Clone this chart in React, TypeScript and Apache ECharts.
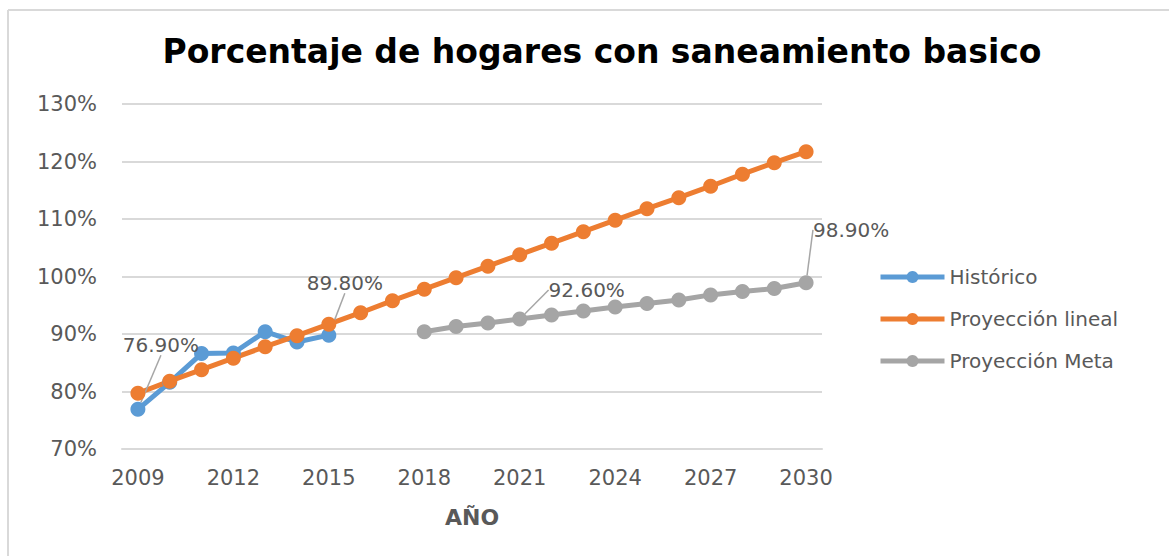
import React, { useEffect, useRef } from "react";
import * as echarts from "echarts";

const years = ["2009","2010","2011","2012","2013","2014","2015","2016","2017","2018","2019","2020","2021","2022","2023","2024","2025","2026","2027","2028","2029","2030"];
const historico = [76.9, 81.6, 86.6, 86.7, 90.4, 88.6, 89.8, null, null, null, null, null, null, null, null, null, null, null, null, null, null, null];
const proyeccionLineal = [79.7, 81.8, 83.8, 85.8, 87.8, 89.7, 91.7, 93.7, 95.8, 97.8, 99.8, 101.8, 103.8, 105.8, 107.8, 109.8, 111.8, 113.7, 115.7, 117.8, 119.8, 121.7];
const proyeccionMeta = [null, null, null, null, null, null, null, null, null, 90.4, 91.3, 91.9, 92.6, 93.3, 94.0, 94.7, 95.3, 95.9, 96.8, 97.4, 97.9, 98.9];
const seriesNames = ["Histórico", "Proyección lineal", "Proyección Meta"];
const titleText = "Porcentaje de hogares con saneamiento basico";
const xName = "AÑO";

// label offsets (dx, dy) relative to point, keyed by series then index
const labelOffsets: Record<string, Record<number, [number, number]>> = {
  "Histórico": { 0: [23, -64], 6: [16, -52] },
  "Proyección Meta": { 12: [67, -29], 21: [45, -53] },
};

const FONT = "'DejaVu Sans', sans-serif";
const TXT = "#595959";

function withLabels(name: string, arr: (number | null)[]) {
  const offs = labelOffsets[name] || {};
  return arr.map((v, i) => {
    if (v == null) return null;
    if (offs[i]) {
      return {
        value: v,
        label: {
          show: true,
          position: "inside",
          color: TXT,
          fontSize: 20,
          fontFamily: FONT,
          formatter: (p: any) => Number(p.value).toFixed(2) + "%",
        },
        labelLine: { show: true, lineStyle: { color: "#a6a6a6", width: 1.5 } },
      };
    }
    return v;
  });
}

export default function App() {
  const ref = useRef<HTMLDivElement>(null);
  useEffect(() => {
    if (!ref.current) return;
    const chart = echarts.init(ref.current, null, { renderer: "svg" });
    const mk = (name: string, arr: (number | null)[], color: string) => ({
      name,
      type: "line",
      data: withLabels(name, arr),
      symbol: "circle",
      symbolSize: 15,
      lineStyle: { color, width: 5 },
      itemStyle: { color },
      connectNulls: false,
      label: { show: false },
      labelLayout: (p: any) => {
        const o = (labelOffsets[name] || {})[p.dataIndex];
        return o ? { dx: o[0], dy: o[1] } : {};
      },
    });
    chart.setOption({
      animation: false,
      backgroundColor: "#ffffff",
      title: {
        text: titleText,
        top: 30,
        left: 597,
        textAlign: "center",
        textStyle: { fontFamily: FONT, fontWeight: "bold", fontSize: 33, color: "#000000" },
      },
      graphic: [
        { type: "line", shape: { x1: 8, y1: 10, x2: 1169, y2: 10 }, style: { stroke: "#d9d9d9", lineWidth: 2 } },
        { type: "line", shape: { x1: 8, y1: 10, x2: 8, y2: 556 }, style: { stroke: "#d9d9d9", lineWidth: 2 } },
      ],
      legend: {
        orient: "vertical",
        left: 873,
        top: 262,
        itemWidth: 64,
        itemHeight: 15,
        itemGap: 22,
        lineStyle: { width: 5 },
        textStyle: { fontFamily: FONT, fontSize: 20, color: TXT },
        data: seriesNames,
      },
      grid: { left: 122, right: 347, top: 104, bottom: 107 },
      xAxis: {
        type: "category",
        data: years,
        boundaryGap: true,
        axisLine: { lineStyle: { color: "#d9d9d9", width: 2 } },
        axisTick: { show: false },
        axisLabel: { interval: 2, color: TXT, fontSize: 21, fontFamily: FONT, margin: 18 },
        name: xName,
        nameLocation: "middle",
        nameGap: 57,
        nameTextStyle: { color: TXT, fontSize: 22, fontWeight: "bold", fontFamily: FONT },
      },
      yAxis: {
        type: "value",
        min: 70,
        max: 130,
        interval: 10,
        axisLine: { show: false },
        axisTick: { show: false },
        splitLine: { lineStyle: { color: "#d9d9d9", width: 2 } },
        axisLabel: { color: TXT, fontSize: 21, fontFamily: FONT, margin: 25, formatter: (v: number) => v + "%" },
      },
      series: [
        mk(seriesNames[0], historico, "#5b9bd5"),
        mk(seriesNames[1], proyeccionLineal, "#ed7d31"),
        mk(seriesNames[2], proyeccionMeta, "#a5a5a5"),
      ],
    });
    return () => chart.dispose();
  }, []);
  return <div ref={ref} style={{ position: "fixed", left: 0, top: 0, width: 1169, height: 556 }} />;
}
